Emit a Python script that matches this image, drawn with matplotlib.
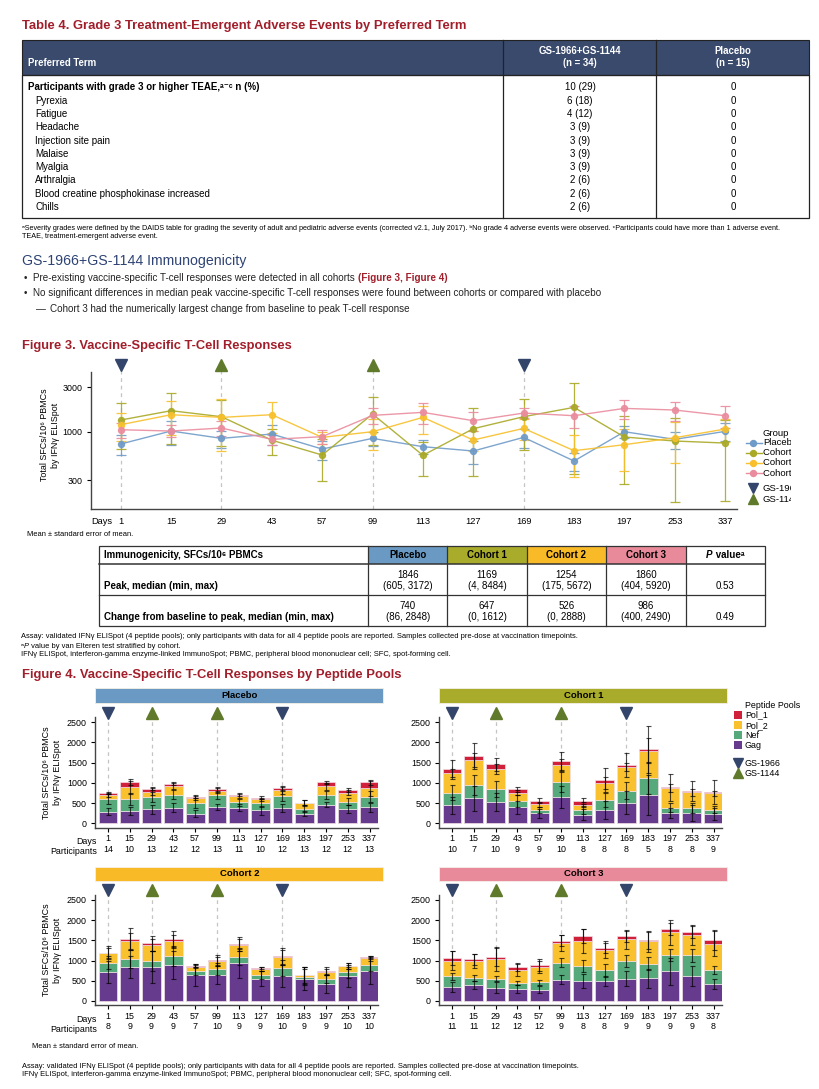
import matplotlib
matplotlib.use('Agg')
import matplotlib.pyplot as plt
from matplotlib.patches import Rectangle
from matplotlib.lines import Line2D
from matplotlib.ticker import NullLocator
from matplotlib.transforms import Bbox, TransformedBbox
import numpy as np

plt.rcParams['font.family'] = ['Liberation Sans', 'DejaVu Sans']

# ---------------- data ----------------
# Table 4
ae_terms = ["Participants with grade 3 or higher TEAE,\u1d43\u207b\u1d9c n (%)", "Pyrexia", "Fatigue", "Headache",
            "Injection site pain", "Malaise", "Myalgia", "Arthralgia",
            "Blood creatine phosphokinase increased", "Chills"]
ae_gs_n = [10, 6, 4, 3, 3, 3, 3, 2, 2, 2]
ae_gs_pct = [29, 18, 12, 9, 9, 9, 9, 6, 6, 6]
ae_placebo = [0, 0, 0, 0, 0, 0, 0, 0, 0, 0]

# Figure 3
days = [1, 15, 29, 43, 57, 99, 113, 127, 169, 183, 197, 253, 337]
groups = ["Placebo", "Cohort 1", "Cohort 2", "Cohort 3"]
mean_placebo = [737, 1017, 848, 944, 651, 848, 690, 620, 869, 484, 1000, 827, 1008]
mean_c1 = [1335, 1682, 1450, 810, 561, 1548, 557, 1077, 1450, 1827, 876, 794, 755]
mean_c2 = [1189, 1523, 1426, 1523, 869, 1000, 1426, 814, 1086, 625, 725, 862, 1068]
mean_c3 = [1050, 1017, 1095, 827, 884, 1498, 1614, 1313, 1587, 1486, 1781, 1711, 1486]
se_placebo = [175, 300, 180, 230, 150, 150, 120, 170, 200, 110, 150, 170, 220]
se_c1 = [680, 950, 740, 250, 266, 830, 220, 740, 820, 1480, 600, 620, 575]
se_c2 = [390, 600, 800, 550, 130, 360, 480, 200, 280, 300, 350, 400, 300]
se_c3 = [200, 150, 200, 100, 150, 300, 400, 300, 200, 400, 400, 400, 400]
gs1966_days = [1, 169]
gs1144_days = [29, 99]

# Immunogenicity table
imm_cols = ["Placebo", "Cohort 1", "Cohort 2", "Cohort 3"]
peak_median = [1846, 1169, 1254, 1860]
peak_min = [605, 4, 175, 404]
peak_max = [3172, 8484, 5672, 5920]
chg_median = [740, 647, 526, 986]
chg_min = [86, 0, 0, 400]
chg_max = [2848, 1612, 2888, 2490]
p_values = ["0.53", "0.49"]

# Figure 4 (mean SFCs per peptide pool, stacked: Gag, Nef, Pol_2, Pol_1)
pools = ["Pol_1", "Pol_2", "Nef", "Gag"]
participants = {
    "Placebo": [14, 10, 13, 12, 12, 13, 11, 10, 12, 13, 12, 12, 13],
    "Cohort 1": [10, 7, 10, 9, 9, 10, 8, 8, 8, 5, 8, 8, 9],
    "Cohort 2": [8, 9, 9, 9, 7, 10, 9, 9, 10, 9, 9, 10, 10],
    "Cohort 3": [11, 11, 12, 12, 12, 9, 8, 8, 9, 9, 9, 9, 8],
}
gag = {
    "Placebo": [290, 305, 345, 390, 240, 410, 390, 320, 380, 240, 460, 355, 395],
    "Cohort 1": [445, 615, 525, 395, 245, 650, 215, 335, 510, 700, 255, 255, 230],
    "Cohort 2": [720, 840, 840, 885, 650, 635, 930, 555, 620, 555, 415, 620, 745],
    "Cohort 3": [345, 390, 330, 305, 280, 530, 495, 495, 555, 560, 735, 625, 415],
}
nef = {
    "Placebo": [310, 300, 305, 320, 270, 280, 125, 175, 295, 125, 250, 180, 265],
    "Cohort 1": [310, 330, 315, 150, 90, 370, 115, 240, 290, 420, 125, 125, 105],
    "Cohort 2": [230, 200, 155, 220, 100, 150, 155, 90, 190, 30, 140, 90, 150],
    "Cohort 3": [265, 180, 225, 130, 180, 410, 370, 270, 430, 365, 405, 510, 355],
}
pol2 = {
    "Placebo": [110, 280, 130, 215, 115, 115, 155, 100, 140, 130, 200, 225, 200],
    "Cohort 1": [495, 625, 500, 215, 130, 420, 125, 420, 585, 675, 495, 385, 410],
    "Cohort 2": [230, 435, 390, 365, 100, 200, 305, 150, 280, 50, 165, 150, 155],
    "Cohort 3": [390, 420, 485, 340, 380, 485, 620, 495, 535, 545, 555, 495, 650],
}
pol1 = {
    "Placebo": [40, 140, 75, 50, 35, 50, 40, 40, 65, 10, 100, 65, 150],
    "Cohort 1": [80, 100, 115, 80, 90, 90, 90, 75, 55, 30, 10, 25, 20],
    "Cohort 2": [10, 65, 40, 55, 25, 25, 25, 30, 15, 0, 15, 5, 30],
    "Cohort 3": [60, 40, 50, 55, 40, 65, 125, 50, 80, 25, 80, 75, 85],
}
# standard errors at each cumulative level (Gag, +Nef, +Pol_2, +Pol_1)
se_gag = {
    "Placebo": [85, 100, 110, 110, 90, 70, 80, 110, 100, 70, 60, 90, 110],
    "Cohort 1": [215, 310, 220, 165, 115, 275, 130, 220, 280, 495, 125, 200, 155],
    "Cohort 2": [280, 280, 405, 340, 270, 220, 370, 180, 280, 280, 225, 270, 330],
    "Cohort 3": [130, 100, 140, 100, 90, 115, 165, 115, 180, 230, 330, 245, 125],
}
se_nef = {
    "Placebo": [120, 150, 130, 120, 120, 90, 90, 100, 130, 80, 100, 90, 140],
    "Cohort 1": [190, 250, 200, 150, 70, 240, 100, 170, 210, 400, 110, 120, 90],
    "Cohort 2": [170, 230, 250, 250, 100, 150, 200, 100, 200, 200, 100, 130, 150],
    "Cohort 3": [90, 65, 60, 50, 60, 110, 160, 160, 150, 150, 150, 160, 100],
}
se_pol2 = {
    "Placebo": [50, 150, 90, 80, 40, 60, 50, 40, 90, 70, 90, 60, 180],
    "Cohort 1": [100, 170, 130, 60, 60, 150, 60, 150, 100, 300, 100, 80, 60],
    "Cohort 2": [120, 200, 150, 150, 40, 110, 150, 50, 180, 200, 80, 80, 60],
    "Cohort 3": [230, 180, 290, 160, 160, 200, 290, 210, 230, 250, 300, 240, 300],
}
se_pol1 = {
    "Placebo": [30, 80, 40, 40, 30, 50, 30, 40, 50, 60, 40, 40, 70],
    "Cohort 1": [230, 320, 170, 60, 60, 220, 75, 300, 300, 575, 345, 250, 295],
    "Cohort 2": [160, 270, 180, 200, 40, 130, 175, 25, 215, 215, 100, 65, 20],
    "Cohort 3": [175, 130, 215, 90, 150, 140, 175, 130, 140, 200, 150, 155, 240],
}

# ---------------- style ----------------
RED = '#a11f2b'
NAVY_HDR = '#394a6d'
NAVY = '#2e4373'
TRI_DOWN = '#34456b'
TRI_UP = '#5f7a2a'
grp_colors = {"Placebo": '#6f9bc8', "Cohort 1": '#a9a927', "Cohort 2": '#f7c02c', "Cohort 3": '#ea8c9e'}
hdr_colors = {"Placebo": '#6a9ac3', "Cohort 1": '#a9ab2a', "Cohort 2": '#f8ba27', "Cohort 3": '#e98a9a'}
pool_colors = {"Pol_1": '#d0203a', "Pol_2": '#f8c12d', "Nef": '#55a97a', "Gag": '#663a8c'}

FS_TAB = 7.0     # table text
FS_FOOT = 5.4    # footnotes
FS_BUL = 7.1     # bullets
FS_AX = 6.4      # axis text

W, H = 820, 1089
fig = plt.figure(figsize=(8.2, 10.89), dpi=100)
fig.patch.set_facecolor('white')
renderer = fig.canvas.get_renderer()


def fx(x):
    return x / W


def fy(y):
    return 1 - y / H


def T(x, y, s, **kw):
    kw.setdefault('va', 'center')
    return fig.text(fx(x), fy(y), s, **kw)


def ax_px(x0, y0, x1, y1):
    return fig.add_axes([x0 / W, 1 - y1 / H, (x1 - x0) / W, (y1 - y0) / H])


def rect_px(x0, y0, x1, y1, **kw):
    r = Rectangle((fx(x0), fy(y1)), (x1 - x0) / W, (y1 - y0) / H, transform=fig.transFigure, **kw)
    fig.patches.append(r)
    return r


def line_px(xs, ys, **kw):
    fig.add_artist(Line2D([fx(v) for v in xs], [fy(v) for v in ys], transform=fig.transFigure, **kw))


def seq_text(x, y, pieces, ha='left', **common):
    texts = []
    cur = fx(x)
    for s, kw in pieces:
        k = dict(common)
        k.update(kw)
        k.setdefault('va', 'center')
        t = fig.text(cur, fy(y), s, ha='left', **k)
        bb = t.get_window_extent(renderer=renderer)
        cur = bb.x1 / fig.bbox.width
        texts.append(t)
    if ha == 'center':
        shift = (cur - fx(x)) / 2
        for t in texts:
            px, py = t.get_position()
            t.set_position((px - shift, py))
    return texts


# ---------------- Table 4 ----------------
T(22, 26, "Table 4. Grade 3 Treatment-Emergent Adverse Events by Preferred Term",
  color=RED, fontsize=9.4, fontweight='bold')
rect_px(22, 40, 809, 75, facecolor=NAVY_HDR, edgecolor='#222222', lw=0.8)
rect_px(22, 75, 809, 218, facecolor='none', edgecolor='#222222', lw=0.9)
for xs in (503, 656):
    line_px([xs, xs], [40, 218], color='#222222', lw=0.9)
T(28, 63, "Preferred Term", color='white', fontsize=6.9, fontweight='bold')
T(580, 51, "GS-1966+GS-1144", color='white', fontsize=6.9, fontweight='bold', ha='center')
T(580, 63, "(n = 34)", color='white', fontsize=6.9, fontweight='bold', ha='center')
T(733, 51, "Placebo", color='white', fontsize=6.9, fontweight='bold', ha='center')
T(733, 63, "(n = 15)", color='white', fontsize=6.9, fontweight='bold', ha='center')
for i, term in enumerate(ae_terms):
    yy = 87.3 + i * 13.3
    if i == 0:
        T(28, yy, term, fontsize=FS_TAB, fontweight='bold', color='black')
    else:
        T(35, yy, term, fontsize=FS_TAB, color='black')
    T(580, yy, f"{ae_gs_n[i]} ({ae_gs_pct[i]})", fontsize=FS_TAB, ha='center')
    T(733, yy, f"{ae_placebo[i]}", fontsize=FS_TAB, ha='center')
T(22, 228, "\u1d43Severity grades were defined by the DAIDS table for grading the severity of adult and pediatric adverse "
           "events (corrected v2.1, July 2017). \u1d47No grade 4 adverse events were observed. \u1d9cParticipants could "
           "have more than 1 adverse event.", fontsize=5.2)
T(22, 237, "TEAE, treatment-emergent adverse event.", fontsize=5.2)

# ---------------- Section text ----------------
T(22, 261, "GS-1966+GS-1144 Immunogenicity", color=NAVY, fontsize=10.2)
T(24, 278, "\u2022", fontsize=FS_BUL, color='#222222')
seq_text(33, 278, [("Pre-existing vaccine-specific T-cell responses were detected in all cohorts ", {}),
                   ("(Figure 3, Figure 4)", {'color': RED, 'fontweight': 'bold'})], fontsize=FS_BUL, color='#222222')
T(24, 293, "\u2022", fontsize=FS_BUL, color='#222222')
T(33, 293, "No significant differences in median peak vaccine-specific T-cell responses were found between cohorts "
           "or compared with placebo", fontsize=FS_BUL, color='#222222')
T(36, 309, "\u2014", fontsize=FS_BUL, color='#222222')
T(50, 309, "Cohort 3 had the numerically largest change from baseline to peak T-cell response",
  fontsize=FS_BUL, color='#222222')

# ---------------- Figure 3 ----------------
T(22, 346, "Figure 3. Vaccine-Specific T-Cell Responses", color=RED, fontsize=9.3, fontweight='bold')
ax3 = ax_px(90.7, 372, 736.7, 509)
xi = np.arange(len(days))
means = {"Placebo": mean_placebo, "Cohort 1": mean_c1, "Cohort 2": mean_c2, "Cohort 3": mean_c3}
ses = {"Placebo": se_placebo, "Cohort 1": se_c1, "Cohort 2": se_c2, "Cohort 3": se_c3}
for g in groups:
    c = grp_colors[g]
    ax3.errorbar(xi, means[g], yerr=ses[g], color=c, ecolor=c, marker='o', ms=4.3, lw=1.0,
                 elinewidth=0.9, capsize=3.6, capthick=0.9, alpha=0.9, zorder=3)
ax3.set_yscale('log')
ylo, yhi = 147.5, 4385
ax3.set_ylim(ylo, yhi)
ax3.set_xlim(-0.596, 12.23)
ax3.set_yticks([300, 1000, 3000])
ax3.set_yticklabels(['300', '1000', '3000'])
ax3.yaxis.set_minor_locator(NullLocator())
ax3.set_xticks(xi)
ax3.set_xticklabels([str(d) for d in days])
ax3.tick_params(axis='x', length=0, pad=6, labelsize=6.7)
ax3.tick_params(axis='y', length=3, width=0.8, pad=3, labelsize=FS_AX)
for sp in ('top', 'right'):
    ax3.spines[sp].set_visible(False)
for sp in ('left', 'bottom'):
    ax3.spines[sp].set_linewidth(1.0)
    ax3.spines[sp].set_color('#444444')
tri_y3 = 5180
for d in gs1966_days + gs1144_days:
    i = days.index(d)
    ax3.plot([i, i], [ylo, tri_y3], ls=(0, (3, 3)), color='#c4c4c4', lw=0.9, zorder=1, clip_on=False)
for d in gs1966_days:
    ax3.plot(days.index(d), tri_y3, marker='v', color=TRI_DOWN, ms=8, clip_on=False, zorder=5)
for d in gs1144_days:
    ax3.plot(days.index(d), tri_y3, marker='^', color=TRI_UP, ms=8, clip_on=False, zorder=5)
T(91.7, 521, "Days", fontsize=6.7)
T(50, 435, "Total SFCs/10\u2076 PBMCs\nby IFN\u03b3 ELISpot", fontsize=FS_AX, rotation=90, ha='center',
  linespacing=1.3)
T(27, 534, "Mean \u00b1 standard error of mean.", fontsize=FS_FOOT)

# legend (Figure 3)
clipbb = TransformedBbox(Bbox.from_extents(0, 0, fx(791), 1), fig.transFigure)
T(763, 433, "Group", fontsize=6.8)
leg_y = [442.7, 452.7, 462.7, 473.0]
for g, yy in zip(groups, leg_y):
    line_px([746, 762], [yy, yy], color=grp_colors[g], lw=1.0)
    fig.add_artist(Line2D([fx(753.5)], [fy(yy)], marker='o', ms=4.3, color=grp_colors[g],
                          transform=fig.transFigure))
    t = T(763, yy, g, fontsize=6.8)
    t.set_clip_box(clipbb)
    t.set_clip_on(True)
fig.add_artist(Line2D([fx(753.5)], [fy(488.3)], marker='v', ms=7, color=TRI_DOWN, transform=fig.transFigure))
fig.add_artist(Line2D([fx(753.5)], [fy(499.3)], marker='^', ms=7, color=TRI_UP, transform=fig.transFigure))
for lab, yy in (("GS-1966", 488.3), ("GS-1144", 499.3)):
    t = T(763, yy, lab, fontsize=6.8)
    t.set_clip_box(clipbb)
    t.set_clip_on(True)

# ---------------- Immunogenicity table ----------------
tx0, tx1 = 99, 765
ty0, ty1, ty2, ty3 = 546, 564, 595, 626
col_edges = [368, 447.4, 526.8, 606.2, 685.6, 765]
for j, col in enumerate(imm_cols):
    rect_px(col_edges[j], ty0, col_edges[j + 1], ty1, facecolor=hdr_colors[col], edgecolor='none')
rect_px(tx0, ty0, tx1, ty3, facecolor='none', edgecolor='#333333', lw=0.9)
line_px([tx0, tx1], [ty1, ty1], color='#333333', lw=1.1)
line_px([tx0, tx1], [ty2, ty2], color='#333333', lw=0.9)
for xe in col_edges[:-1]:
    line_px([xe, xe], [ty0, ty3], color='#333333', lw=0.9)
T(104, 555, "Immunogenicity, SFCs/10\u2076 PBMCs", fontsize=FS_TAB, fontweight='bold')
for j, col in enumerate(imm_cols):
    cx = (col_edges[j] + col_edges[j + 1]) / 2
    T(cx, 555, col, fontsize=FS_TAB, fontweight='bold', ha='center')
    T(cx, 575, f"{peak_median[j]}", fontsize=FS_TAB, ha='center')
    T(cx, 586, f"({peak_min[j]}, {peak_max[j]})", fontsize=FS_TAB, ha='center')
    T(cx, 606, f"{chg_median[j]}", fontsize=FS_TAB, ha='center')
    T(cx, 617, f"({chg_min[j]}, {chg_max[j]})", fontsize=FS_TAB, ha='center')
pcx = (col_edges[4] + col_edges[5]) / 2
seq_text(pcx, 555, [("P", {'fontstyle': 'italic'}), (" value\u1d43", {})], ha='center',
         fontsize=FS_TAB, fontweight='bold')
T(pcx, 586, p_values[0], fontsize=FS_TAB, ha='center')
T(pcx, 617, p_values[1], fontsize=FS_TAB, ha='center')
T(104, 586, "Peak, median (min, max)", fontsize=FS_TAB, fontweight='bold')
T(104, 617, "Change from baseline to peak, median (min, max)", fontsize=FS_TAB, fontweight='bold')
T(21, 637, "Assay: validated IFN\u03b3 ELISpot (4 peptide pools); only participants with data for all 4 peptide pools "
           "are reported. Samples collected pre-dose at vaccination timepoints.", fontsize=FS_FOOT)
seq_text(21, 646, [("\u1d43", {}), ("P", {'fontstyle': 'italic'}),
                   (" value by van Elteren test stratified by cohort.", {})], fontsize=FS_FOOT)
T(21, 655, "IFN\u03b3 ELISpot, interferon-gamma enzyme-linked ImmunoSpot; PBMC, peripheral blood mononuclear cell; "
           "SFC, spot-forming cell.", fontsize=FS_FOOT)

# ---------------- Figure 4 ----------------
T(22, 675, "Figure 4. Vaccine-Specific T-Cell Responses by Peptide Pools", color=RED, fontsize=9.4,
  fontweight='bold')

panels = {
    "Placebo": dict(x0=95.3, zero=823.3, band=(688, 703), left=True),
    "Cohort 1": dict(x0=439.3, zero=823.3, band=(688, 703), left=False),
    "Cohort 2": dict(x0=95.3, zero=1001.0, band=(866.7, 881), left=True),
    "Cohort 3": dict(x0=439.3, zero=1001.0, band=(866.7, 881), left=False),
}
px_per_unit = 101.2 / 2500
ymin4, ymax4 = -105, 2620
xmin4, xmax4 = -0.58, 12.4
step_px = 21.8
tri_y4 = 2730
for name, p in panels.items():
    x0 = p['x0']
    x1 = x0 + (xmax4 - xmin4) * step_px
    top = p['zero'] - ymax4 * px_per_unit
    bot = p['zero'] - ymin4 * px_per_unit
    ax = ax_px(x0, top, x1, bot)
    # header band
    b0, b1 = p['band']
    rect_px(x0, b0, x0 + 288, b1, facecolor=hdr_colors[name], edgecolor='#f4f0e8', lw=0.6)
    T(x0 + 144, (b0 + b1) / 2, name, fontsize=6.8, fontweight='bold', ha='center')
    bottom = np.zeros(len(days))
    levels = []
    for comp, pool in ((gag, "Gag"), (nef, "Nef"), (pol2, "Pol_2"), (pol1, "Pol_1")):
        vals = np.array(comp[name], dtype=float)
        ax.bar(xi, vals, bottom=bottom, width=0.86, color=pool_colors[pool], edgecolor='#f1dfe6',
               linewidth=0.5, zorder=2)
        bottom = bottom + vals
        levels.append(bottom.copy())
    for lev, se in zip(levels, (se_gag, se_nef, se_pol2, se_pol1)):
        ax.errorbar(xi, lev, yerr=se[name], fmt='none', ecolor='black', elinewidth=0.8, capsize=1.8,
                    capthick=0.8, alpha=0.7, zorder=4)
    for d in gs1966_days + gs1144_days:
        i = days.index(d)
        ax.plot([i, i], [0, tri_y4], ls=(0, (3, 3)), color='#c4c4c4', lw=0.9, zorder=1, clip_on=False)
    for d in gs1966_days:
        ax.plot(days.index(d), tri_y4, marker='v', color=TRI_DOWN, ms=8, clip_on=False, zorder=5)
    for d in gs1144_days:
        ax.plot(days.index(d), tri_y4, marker='^', color=TRI_UP, ms=8, clip_on=False, zorder=5)
    ax.set_xlim(xmin4, xmax4)
    ax.set_ylim(ymin4, ymax4)
    ax.set_yticks([0, 500, 1000, 1500, 2000, 2500])
    ax.set_yticklabels(['0', '500', '1000', '1500', '2000', '2500'])
    ax.set_xticks(xi)
    ax.set_xticklabels([f"{d}\n{n}" for d, n in zip(days, participants[name])], linespacing=1.15)
    ax.tick_params(axis='x', length=3, width=0.8, pad=2, labelsize=FS_AX)
    ax.tick_params(axis='y', length=3, width=0.8, pad=3, labelsize=FS_AX)
    for sp in ('top', 'right'):
        ax.spines[sp].set_visible(False)
    for sp in ('left', 'bottom'):
        ax.spines[sp].set_linewidth(1.0)
        ax.spines[sp].set_color('#444444')
    if p['left']:
        zy = p['zero']
        T(96.7, zy + 18.4, "Days", fontsize=FS_AX, ha='right')
        T(96.7, zy + 28.4, "Participants", fontsize=FS_AX, ha='right')
        T(52, zy - 51, "Total SFCs/10\u2076 PBMCs\nby IFN\u03b3 ELISpot", fontsize=FS_AX, rotation=90,
          ha='center', linespacing=1.3)

# legend (Figure 4)
T(745, 705, "Peptide Pools", fontsize=FS_AX)
for pool, yy in zip(pools, [715, 725.3, 735.3, 745.3]):
    rect_px(734, yy - 4, 742, yy + 4, facecolor=pool_colors[pool], edgecolor='none')
    T(745, yy, pool, fontsize=FS_AX)
fig.add_artist(Line2D([fx(738)], [fy(763.3)], marker='v', ms=6.5, color=TRI_DOWN, transform=fig.transFigure))
fig.add_artist(Line2D([fx(738)], [fy(773.3)], marker='^', ms=6.5, color=TRI_UP, transform=fig.transFigure))
T(745, 763.3, "GS-1966", fontsize=FS_AX)
T(745, 773.3, "GS-1144", fontsize=FS_AX)

T(32, 1047, "Mean \u00b1 standard error of mean.", fontsize=FS_FOOT)
T(22, 1066, "Assay: validated IFN\u03b3 ELISpot (4 peptide pools); only participants with data for all 4 peptide pools "
            "are reported. Samples collected pre-dose at vaccination timepoints.", fontsize=FS_FOOT)
T(22, 1074, "IFN\u03b3 ELISpot, interferon-gamma enzyme-linked ImmunoSpot; PBMC, peripheral blood mononuclear cell; "
            "SFC, spot-forming cell.", fontsize=FS_FOOT)

fig.savefig('out.png', dpi=100, facecolor='white')
